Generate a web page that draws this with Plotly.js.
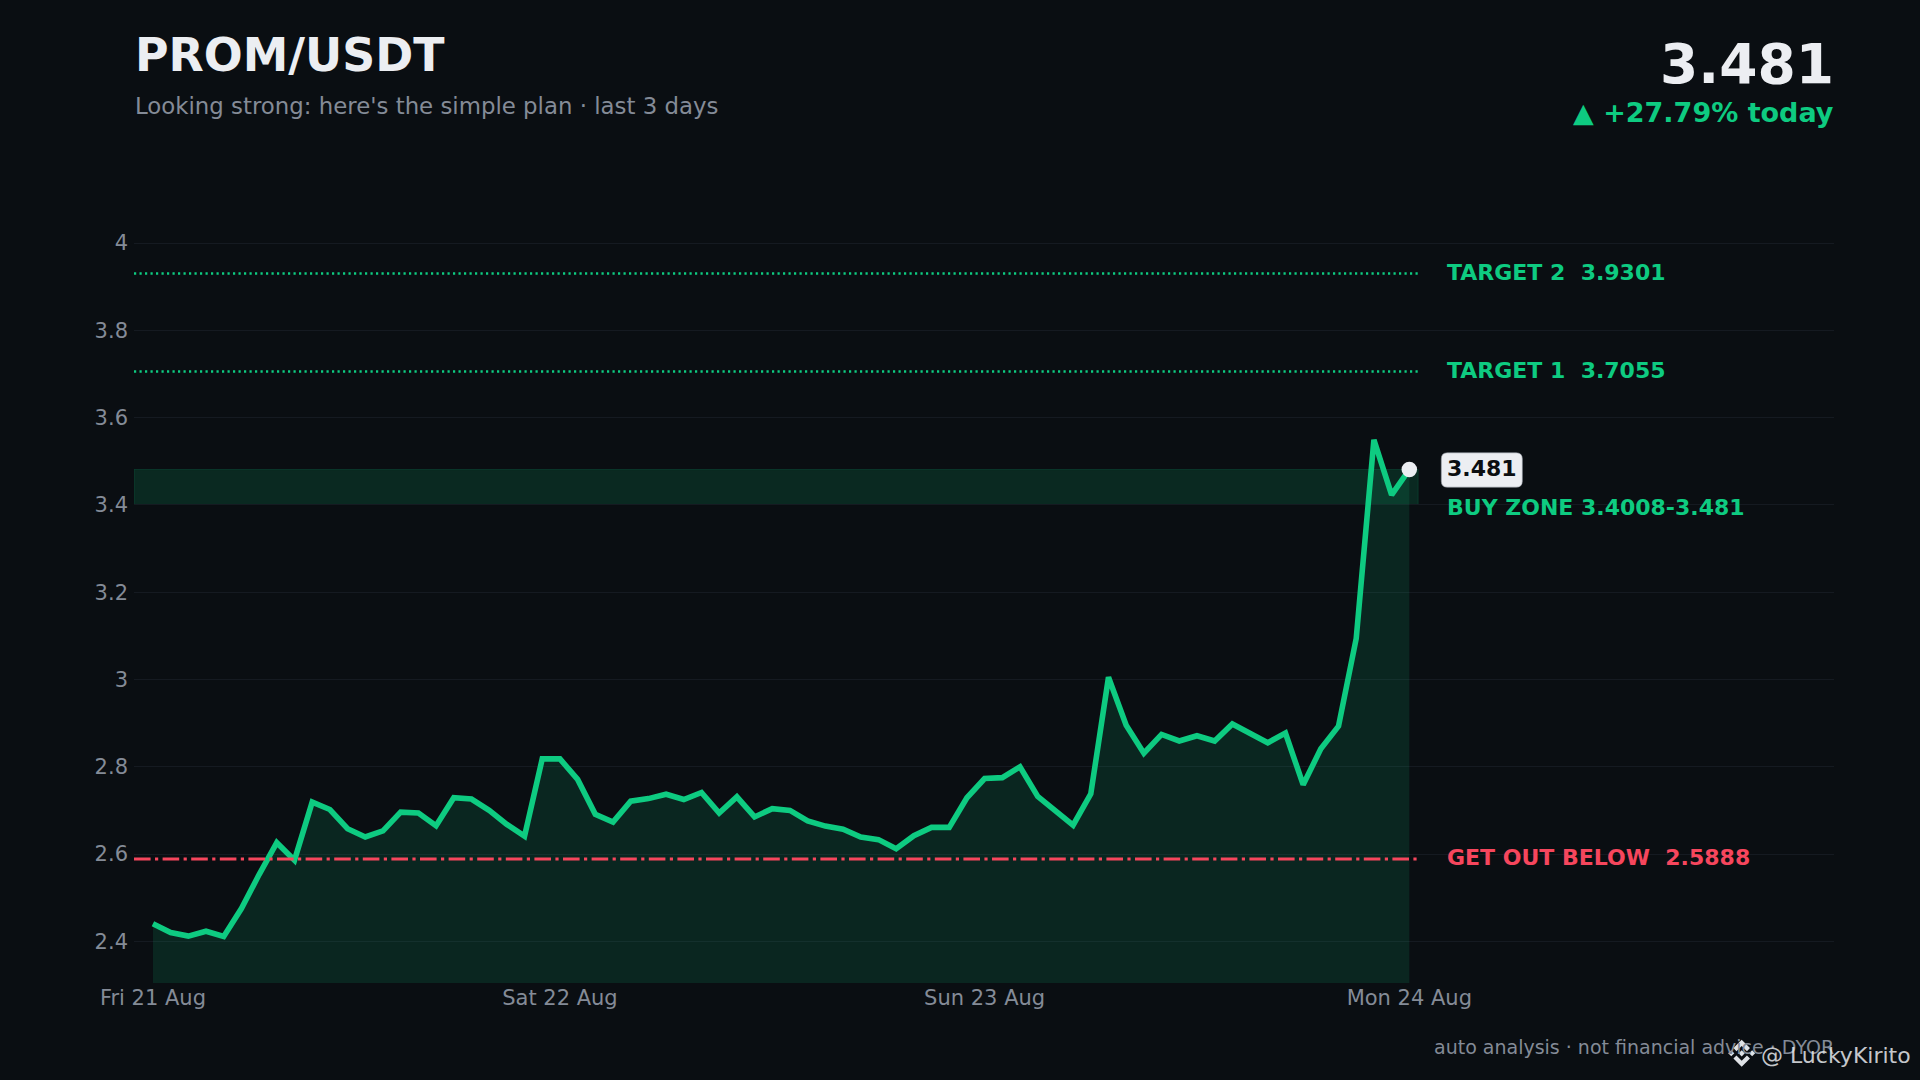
<!DOCTYPE html>
<html><head><meta charset="utf-8">
<script src="https://cdn.plot.ly/plotly-3.0.1.min.js"></script>
<style>html,body{margin:0;padding:0;background:#0a0e12;overflow:hidden}#chart{width:1920px;height:1080px}</style>
</head><body><div id="chart"></div>
<script>
const prices = [2.440,2.420,2.412,2.423,2.411,2.475,2.553,2.626,2.586,2.719,2.702,2.658,2.639,2.653,2.696,2.694,2.665,2.729,2.726,2.700,2.668,2.641,2.818,2.818,2.771,2.691,2.673,2.721,2.727,2.737,2.725,2.741,2.694,2.731,2.685,2.704,2.700,2.676,2.664,2.657,2.639,2.633,2.612,2.642,2.661,2.661,2.729,2.773,2.775,2.800,2.732,2.699,2.666,2.738,3.005,2.895,2.831,2.874,2.859,2.871,2.859,2.898,2.876,2.855,2.877,2.759,2.841,2.893,3.094,3.549,3.423,3.481];
const hours = prices.map((_, i) => i);
const tickHours = [0, 23, 47, 71];
const tickDays = ["Fri 21 Aug", "Sat 22 Aug", "Sun 23 Aug", "Mon 24 Aug"];
const priceTicks = [2.4, 2.6, 2.8, 3, 3.2, 3.4, 3.6, 3.8, 4];
const target1 = 3.7055, target2 = 3.9301, stopLevel = 2.5888;
const zoneLow = 3.4008, zoneHigh = 3.481;
const lastPrice = 3.481;

const GREEN = "#0ecb81", RED = "#f6465d", INK = "#eceef2", MUTED = "#848b97";
const FONT = "DejaVu Sans";
const xMin = -1.07, xMax = 95.0, lineEnd = 71.5, labelX = 73.02;

function levelTrace(y, color, dash, width) {
  return {x:[xMin, lineEnd], y:[y, y], mode:"lines", hoverinfo:"skip", line:{color, dash, width}};
}
const traces = [
  levelTrace(target2, GREEN, "2.2px,3.3px", 2.5),
  levelTrace(target1, GREEN, "2.2px,3.3px", 2.5),
  {x:hours, y:prices, mode:"lines", fill:"tozeroy", fillcolor:"rgba(14,203,129,0.13)",
   line:{color:GREEN, width:5.6, shape:"linear"}, hoverinfo:"skip"},
  levelTrace(stopLevel, RED, "16.6px,4.4px,3.2px,4.4px", 3),
  {x:[hours[hours.length-1]], y:[lastPrice], mode:"markers", hoverinfo:"skip",
   marker:{color:INK, size:15.5}}
];

function note(x, y, text, color, size, bold, extra) {
  return Object.assign({xref:"x", yref:"y", x, y, text: bold ? "<b>"+text+"</b>" : text,
    showarrow:false, xanchor:"left", yanchor:"middle",
    font:{family:FONT, size, color}}, extra||{});
}
const plotW = 1700, plotH = 749;
const px = v => (v-134)/plotW, py = v => (983-v)/plotH;
function page(x, y, text, color, size, bold, xanchor) {
  return {xref:"paper", yref:"paper", x:px(x), y:py(y), text: bold ? "<b>"+text+"</b>" : text,
    showarrow:false, xanchor:xanchor||"left", yanchor:"middle", font:{family:FONT,size,color}};
}
const logoParts = [
  [[38.73,53.2],[63.3,28.64],[87.89,53.23],[102.19,38.93],[63.3,0],[24.43,38.9]],
  [[38.73,73.41],[63.3,97.98],[87.89,73.4],[102.2,87.69],[63.3,126.61],[24.43,87.73]],
  [[0,63.31],[14.3,49.01],[28.6,63.31],[14.3,77.61]],
  [[98,63.31],[112.3,49.01],[126.6,63.31],[112.3,77.61]],
  [[77.83,63.3],[63.3,48.76],[48.78,63.27],[63.3,77.83]]
];
const logoScale = 27/126.61;
const logoShapes = logoParts.map(pts => ({type:"path", xref:"paper", yref:"paper", fillcolor:"#dfe2e6",
  line:{width:0}, layer:"above",
  path:"M"+pts.map(p => px(1741.7+(p[0]-63.3)*logoScale)+","+py(1053.3+(p[1]-63.3)*logoScale)).join(" L")+" Z"}));

const layout = {
  width:1920, height:1080, paper_bgcolor:"#0a0e12", plot_bgcolor:"#0a0e12",
  margin:{l:134, r:86, t:234, b:97, pad:0}, showlegend:false,
  xaxis:{type:"linear", range:[xMin,xMax], tickmode:"array", tickvals:tickHours, ticktext:tickDays,
    showgrid:false, zeroline:false, showline:false, ticks:"", tickfont:{family:FONT,size:21,color:MUTED}},
  yaxis:{type:"linear", range:[2.3045,4.0207], tickmode:"array", tickvals:priceTicks,
    ticktext:priceTicks.map(String), showgrid:true, gridcolor:"#151a21", gridwidth:1, zeroline:false,
    showline:false, ticks:"", ticklabelstandoff:5, tickfont:{family:FONT,size:21,color:MUTED}},
  shapes:[
    {type:"rect", xref:"x", yref:"y", x0:xMin, x1:lineEnd, y0:zoneLow, y1:zoneHigh, layer:"below",
     fillcolor:"rgba(14,203,129,0.14)", line:{color:"rgba(14,203,129,0.16)", width:1}},
    {type:"path", xref:"x", yref:"y", xsizemode:"pixel", ysizemode:"pixel", xanchor:hours[71], yanchor:lastPrice,
     fillcolor:INK, line:{color:"#9aa0a8", width:0.6}, layer:"above",
     path:"M38,-17.6 H107 Q113,-17.6 113,-11.6 V10.7 Q113,16.7 107,16.7 H38 Q32,16.7 32,10.7 V-11.6 Q32,-17.6 38,-17.6 Z"},
    ...logoShapes
  ],
  annotations:[
    note(labelX, target2+0.003, "TARGET 2  3.9301", GREEN, 22, true),
    note(labelX, target1+0.003, "TARGET 1  3.7055", GREEN, 22, true),
    note(labelX, 3.394, "BUY ZONE 3.4008-3.481", GREEN, 22, true),
    note(labelX, stopLevel+0.003, "GET OUT BELOW  2.5888", RED, 22, true),
    note(labelX, lastPrice+0.003, "3.481", "#0b0e11", 22, true),
    page(133, 55, "PROM/USDT", INK, 45.8, true),
    page(133, 106, "Looking strong: here's the simple plan · last 3 days", MUTED, 22.85, false),
    page(1836, 64, "3.481", INK, 55, true, "right"),
    page(1836, 112, "▲ +27.79% today", GREEN, 27, true, "right"),
    page(1836, 1047, "auto analysis · not financial advice · DYOR", MUTED, 19, false, "right"),
    page(1759, 1055, "@ LuckyKirito", "rgba(232,234,238,0.85)", 22, false)
  ]
};
Plotly.newPlot("chart", traces, layout, {staticPlot:true, displayModeBar:false});
</script></body></html>
